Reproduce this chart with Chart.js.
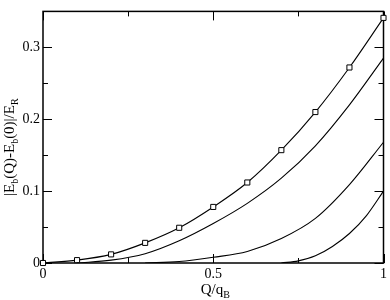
<!DOCTYPE html>
<html>
<head>
<meta charset="utf-8">
<script src="https://cdn.jsdelivr.net/npm/chart.js@4"></script>
<style>
  html, body { margin: 0; padding: 0; background: #fff; }
  #wrap { width: 390px; height: 300px; }
</style>
</head>
<body>
<div id="wrap"><canvas id="chart"></canvas></div>
<script>
// values
const qTop = [0, 0.1, 0.2, 0.3, 0.4, 0.5, 0.6, 0.7, 0.8, 0.9, 1.0];
const eTop = [0, 0.004, 0.012, 0.028, 0.049, 0.078, 0.112, 0.157, 0.210, 0.272, 0.341];

const q2 = [0.1, 0.2, 0.3, 0.4, 0.5, 0.6, 0.7, 0.8, 0.9, 1.0];
const e2 = [0, 0.004, 0.013, 0.031, 0.055, 0.083, 0.118, 0.163, 0.220, 0.285];

const q3 = [0.3, 0.4, 0.5, 0.6, 0.7, 0.8, 0.9, 1.0];
const e3 = [0, 0.002, 0.008, 0.016, 0.034, 0.062, 0.109, 0.168];

const q4 = [0.7, 0.75, 0.8, 0.85, 0.9, 0.95, 1.0];
const e4 = [0, 0.003, 0.010, 0.023, 0.041, 0.066, 0.100];

const xTicks = [0, 0.5, 1];
const xMinor = [0.25, 0.75];
const yTicks = [0, 0.1, 0.2, 0.3];
const yMinor = [0.05, 0.15, 0.25];

const FONT = '"Liberation Serif", "DejaVu Serif", serif';

function pts(xs, ys) {
    return xs.map((x, i) => ({ x: x, y: ys[i] }));
}

function curve(xs, ys) {
    return {
        data: pts(xs, ys),
        borderColor: '#000',
        borderWidth: 1.1,
        pointRadius: 0,
        cubicInterpolationMode: 'monotone',
        fill: false
    };
}

// frame + inward ticks on all four sides
const framePlugin = {
    id: 'frame',
    beforeDatasetsDraw(chart) {
        const { ctx, chartArea: a, scales: { x, y } } = chart;
        ctx.save();
        ctx.strokeStyle = '#000';
        ctx.lineWidth = 1.5;
        ctx.strokeRect(a.left, a.top, a.right - a.left, a.bottom - a.top);
        ctx.lineWidth = 1;
        ctx.beginPath();
        const tx = (v, len) => {
            const px = Math.round(x.getPixelForValue(v)) + 0.5;
            ctx.moveTo(px, a.bottom); ctx.lineTo(px, a.bottom - len);
            ctx.moveTo(px, a.top); ctx.lineTo(px, a.top + len);
        };
        const ty = (v, len) => {
            const py = Math.round(y.getPixelForValue(v)) + 0.5;
            ctx.moveTo(a.left, py); ctx.lineTo(a.left + len, py);
            ctx.moveTo(a.right, py); ctx.lineTo(a.right - len, py);
        };
        xTicks.forEach(v => tx(v, 9));
        xMinor.forEach(v => tx(v, 5));
        yTicks.forEach(v => ty(v, 9));
        yMinor.forEach(v => ty(v, 5));
        ctx.stroke();
        ctx.restore();
    }
};

// axis titles with subscripts
function drawSubText(ctx, parts, size, subSize) {
    let w = 0;
    parts.forEach(p => {
        ctx.font = (p[1] ? subSize : size) + 'px ' + FONT;
        w += ctx.measureText(p[0]).width;
    });
    let pos = -w / 2;
    parts.forEach(p => {
        ctx.font = (p[1] ? subSize : size) + 'px ' + FONT;
        ctx.fillText(p[0], pos, p[1] ? 4 : 0);
        pos += ctx.measureText(p[0]).width;
    });
}

const titlePlugin = {
    id: 'titles',
    afterDraw(chart) {
        const { ctx, chartArea: a } = chart;
        ctx.save();
        ctx.fillStyle = '#000';
        ctx.textBaseline = 'alphabetic';
        ctx.textAlign = 'left';

        ctx.save();
        ctx.translate((a.left + a.right) / 2 + 2, 294);
        drawSubText(ctx, [['Q/q', false], ['B', true]], 15, 10);
        ctx.restore();

        ctx.save();
        ctx.translate(14, (a.top + a.bottom) / 2 + 10);
        ctx.rotate(-Math.PI / 2);
        drawSubText(ctx, [['|E', false], ['b', true], ['(Q)-E', false], ['b', true], ['(0)|/E', false], ['R', true]], 15, 10);
        ctx.restore();

        ctx.restore();
    }
};

const topSeries = curve(qTop, eTop);
topSeries.pointRadius = 3.6;
topSeries.pointStyle = 'rect';
topSeries.pointBackgroundColor = '#fff';
topSeries.pointBorderColor = '#000';
topSeries.pointBorderWidth = 1;
topSeries.clip = false;

const ctx = document.getElementById('chart').getContext('2d');
new Chart(ctx, {
    type: 'line',
    data: {
        datasets: [curve(q4, e4), curve(q3, e3), curve(q2, e2), topSeries]
    },
    options: {
        responsive: true,
        maintainAspectRatio: false,
        animation: false,
        layout: { padding: { left: 0, top: 2, right: 4, bottom: 0 } },
        plugins: {
            legend: { display: false },
            tooltip: { enabled: false }
        },
        scales: {
            x: {
                type: 'linear',
                min: 0,
                max: 1,
                afterBuildTicks: s => { s.ticks = xTicks.map(v => ({ value: v })); },
                afterFit: s => { s.height = 37; },
                grid: { display: false, drawTicks: false },
                border: { display: false },
                ticks: {
                    padding: 3,
                    maxRotation: 0,
                    color: '#000',
                    font: { family: FONT, size: 14 },
                    callback: v => String(v)
                }
            },
            y: {
                type: 'linear',
                min: 0,
                max: 0.35,
                afterBuildTicks: s => { s.ticks = yTicks.map(v => ({ value: v })); },
                afterFit: s => { s.width = 43; },
                grid: { display: false, drawTicks: false },
                border: { display: false },
                ticks: {
                    padding: 3,
                    color: '#000',
                    font: { family: FONT, size: 14 },
                    callback: v => String(v)
                }
            }
        }
    },
    plugins: [framePlugin, titlePlugin]
});
</script>
</body>
</html>
